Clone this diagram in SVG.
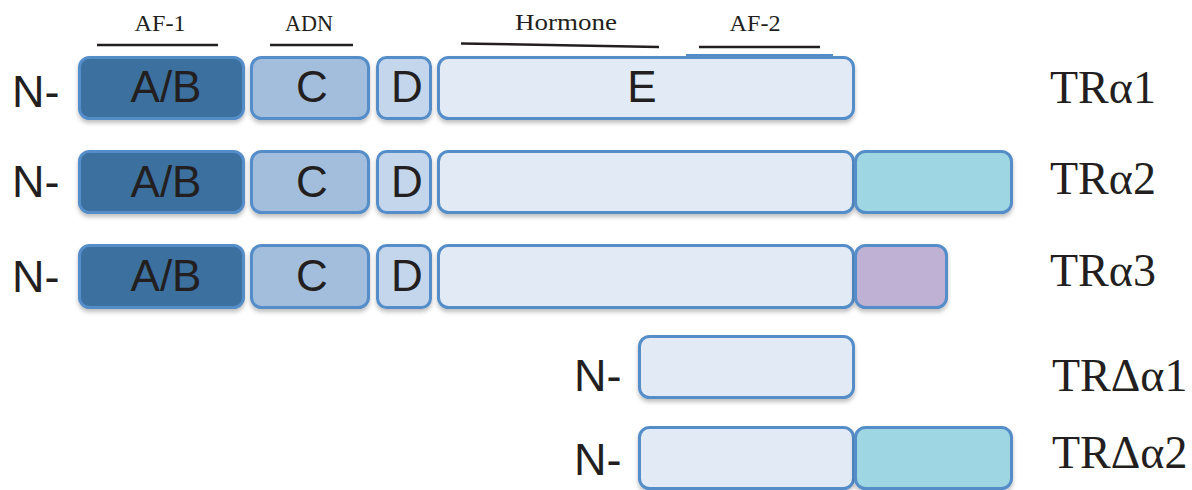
<svg xmlns="http://www.w3.org/2000/svg" width="1192" height="490" viewBox="0 0 1192 490">
<defs>
<filter id="sh" x="-10%" y="-20%" width="120%" height="150%">
<feDropShadow dx="0" dy="3" stdDeviation="2" flood-color="#000" flood-opacity="0.25"/>
</filter>
<style>
.box{stroke:#548DC9;stroke-width:3;filter:url(#sh)}
.ab{fill:#3A6F9F}
.c{fill:#A3BEDD}
.d{fill:#C3D6EC}
.e{fill:#E1EAF5}
.cy{fill:#9FD6E3}
.pu{fill:#BEB1D3}
.dom{font-family:"Liberation Sans",Arial,sans-serif;font-size:44px;fill:#231F20;text-anchor:middle}
.n{font-family:"Liberation Sans",Arial,sans-serif;font-size:45px;fill:#231F20}
.tr{font-family:"Liberation Serif","DejaVu Serif",serif;font-size:46px;fill:#231F20}
.lab{font-family:"Liberation Serif","DejaVu Serif",serif;font-size:23px;fill:#231F20;text-anchor:middle}
.bar{stroke:#231F20;stroke-width:2.5;fill:none}
</style>
</defs>
<rect width="1192" height="490" fill="#fff"/>
<g id="labels">
<text class="lab" x="160" y="31" textLength="51" lengthAdjust="spacingAndGlyphs">AF-1</text>
<text class="lab" x="309" y="31" textLength="48" lengthAdjust="spacingAndGlyphs">ADN</text>
<text class="lab" x="566" y="30" textLength="102" lengthAdjust="spacingAndGlyphs">Hormone</text>
<text class="lab" x="755" y="31" textLength="51" lengthAdjust="spacingAndGlyphs">AF-2</text>
<line class="bar" x1="97" y1="45" x2="218" y2="45"/>
<line class="bar" x1="270" y1="45" x2="353" y2="45"/>
<line class="bar" x1="461" y1="43.5" x2="659" y2="47"/>
<line class="bar" x1="699" y1="47" x2="820" y2="47"/>
<line x1="686" y1="55" x2="833" y2="55" stroke="#548DC9" stroke-width="2"/>
</g>
<g id="TRa1">
<text class="n" x="12" y="107">N-</text>
<rect class="box ab" x="79.5" y="57.5" width="164" height="61" rx="10"/>
<rect class="box c" x="251.5" y="57.5" width="117" height="61" rx="10"/>
<rect class="box d" x="377.5" y="57.5" width="53" height="61" rx="9"/>
<rect class="box e" x="438.5" y="57.5" width="415" height="61" rx="10"/>
<text class="dom" x="166" y="102">A/B</text>
<text class="dom" x="312" y="102">C</text>
<text class="dom" x="407" y="102">D</text>
<text class="dom" x="642" y="102">E</text>
<text class="tr" x="1050" y="103">TRα1</text>
</g>
<g id="TRa2">
<text class="n" x="12" y="197">N-</text>
<rect class="box ab" x="79.5" y="151.5" width="164" height="61" rx="10"/>
<rect class="box c" x="251.5" y="151.5" width="117" height="61" rx="10"/>
<rect class="box d" x="377.5" y="151.5" width="53" height="61" rx="9"/>
<rect class="box e" x="438.5" y="151.5" width="415" height="61" rx="10"/>
<rect class="box cy" x="855.5" y="151.5" width="156" height="61" rx="10"/>
<text class="dom" x="166" y="197">A/B</text>
<text class="dom" x="312" y="197">C</text>
<text class="dom" x="407" y="197">D</text>
<text class="tr" x="1050" y="194">TRα2</text>
</g>
<g id="TRa3">
<text class="n" x="12" y="292">N-</text>
<rect class="box ab" x="79.5" y="245.5" width="164" height="62" rx="10"/>
<rect class="box c" x="251.5" y="245.5" width="117" height="62" rx="10"/>
<rect class="box d" x="377.5" y="245.5" width="53" height="62" rx="9"/>
<rect class="box e" x="438.5" y="245.5" width="415" height="62" rx="10"/>
<rect class="box pu" x="855.5" y="245.5" width="91" height="62" rx="10"/>
<text class="dom" x="166" y="291">A/B</text>
<text class="dom" x="312" y="291">C</text>
<text class="dom" x="407" y="291">D</text>
<text class="tr" x="1050" y="286">TRα3</text>
</g>
<g id="TRda1">
<text class="n" x="574" y="391">N-</text>
<rect class="box e" x="639.5" y="336.5" width="214" height="61" rx="10"/>
<text class="tr" x="1052" y="391">TRΔα1</text>
</g>
<g id="TRda2">
<text class="n" x="574" y="475">N-</text>
<rect class="box e" x="639.5" y="427.5" width="214" height="61" rx="10"/>
<rect class="box cy" x="855.5" y="427.5" width="156" height="61" rx="10"/>
<text class="tr" x="1052" y="468">TRΔα2</text>
</g>
<g id="connectors"/>
</svg>
